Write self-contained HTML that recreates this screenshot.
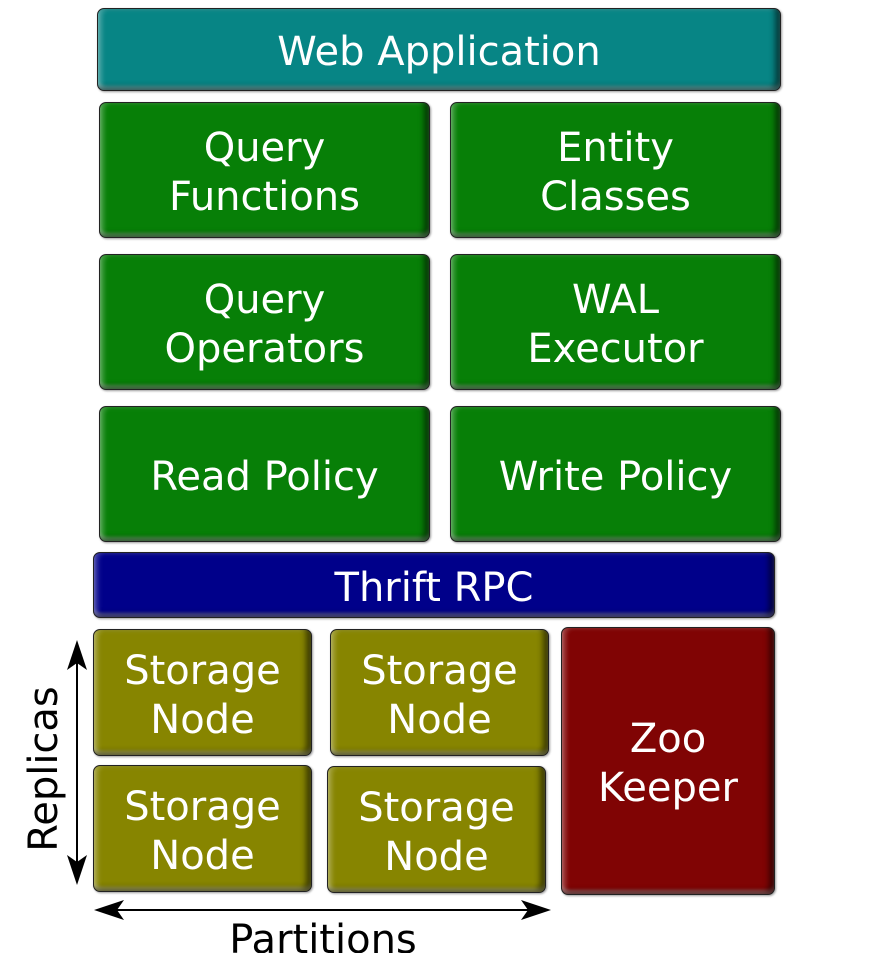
<!DOCTYPE html>
<html><head><meta charset="utf-8"><style>
html,body{margin:0;padding:0;background:#fff;width:875px;height:953px;overflow:hidden}
body{position:relative;font-family:"DejaVu Sans","Liberation Sans",sans-serif}
.b{position:absolute;box-sizing:border-box;border-radius:7px;color:#fff;display:flex;align-items:center;justify-content:center;text-align:center;font-size:40px;line-height:49px;border:1px solid #222;padding-top:6px;
box-shadow:inset -5px -3px 6px rgba(0,0,0,.55),inset 4px 0 5px rgba(255,255,255,.25),inset 0 -4px 3px rgba(255,255,255,.35),1px 1px 2px rgba(0,0,0,.4)}
.t{background:#078585}
.g{background:#077f07}
.n{background:#00008a}
.o{background:#878500}
.r{background:#800404}
.lbl{position:absolute;font-size:40px;color:#000}
</style></head><body>
<div class="b t" style="left:97px;top:8px;width:684px;height:83px">Web Application</div>
<div class="b g" style="left:99px;top:102px;width:331px;height:136px">Query<br>Functions</div>
<div class="b g" style="left:450px;top:102px;width:331px;height:136px">Entity<br>Classes</div>
<div class="b g" style="left:99px;top:254px;width:331px;height:136px">Query<br>Operators</div>
<div class="b g" style="left:450px;top:254px;width:331px;height:136px">WAL<br>Executor</div>
<div class="b g" style="left:99px;top:406px;width:331px;height:136px">Read Policy</div>
<div class="b g" style="left:450px;top:406px;width:331px;height:136px">Write Policy</div>
<div class="b n" style="left:93px;top:552px;width:682px;height:66px">Thrift RPC</div>
<div class="b o" style="left:93px;top:629px;width:219px;height:127px">Storage<br>Node</div>
<div class="b o" style="left:330px;top:629px;width:219px;height:127px">Storage<br>Node</div>
<div class="b o" style="left:93px;top:765px;width:219px;height:127px">Storage<br>Node</div>
<div class="b o" style="left:327px;top:766px;width:219px;height:127px">Storage<br>Node</div>
<div class="b r" style="left:561px;top:627px;width:214px;height:268px">Zoo<br>Keeper</div>
<svg style="position:absolute;left:0;top:0" width="875" height="953">
<line x1="77" y1="655" x2="77" y2="870" stroke="#000" stroke-width="2"/>
<polygon points="77,640 67,670 77,663 87,670" fill="#000"/>
<polygon points="77,885 67,855 77,862 87,855" fill="#000"/>
<line x1="108" y1="910" x2="537" y2="910" stroke="#000" stroke-width="2"/>
<polygon points="94,910 124,900 117,910 124,920" fill="#000"/>
<polygon points="551,910 521,900 528,910 521,920" fill="#000"/>
</svg>
<div class="lbl" style="left:44px;top:769px;transform:translate(-50%,-50%) rotate(-90deg);white-space:nowrap">Replicas</div>
<div class="lbl" style="left:323px;top:940px;transform:translate(-50%,-50%);white-space:nowrap">Partitions</div>
</body></html>
